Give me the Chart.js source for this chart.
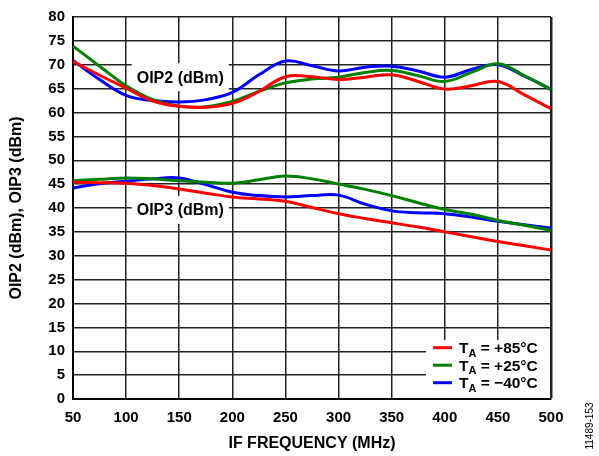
<!DOCTYPE html>
<html>
<head>
<meta charset="utf-8">
<script src="https://cdn.jsdelivr.net/npm/chart.js@4.4.1/dist/chart.umd.min.js"></script>
<style>
  html, body { margin: 0; padding: 0; background: #fff; }
</style>
</head>
<body>
<canvas id="oipChart" width="599" height="456"></canvas>
<script>
// IF frequency (MHz), sampled every 25 MHz off the plot
const freqs = [50, 75, 100, 125, 150, 175, 200, 225, 250, 275, 300, 325, 350, 375, 400, 425, 450, 475, 500]

// OIP2 (dBm)
const oip2_85 = [70.7, 67.8, 65.1, 62.4, 61.3, 61.1, 61.9, 64.4, 67.5, 67.5, 66.9, 67.4, 67.9, 66.5, 64.9, 65.6, 66.5, 63.7, 60.8]
const oip2_25 = [73.9, 69.7, 65.6, 62.7, 61.3, 61.2, 62.3, 64.4, 66.2, 67.0, 67.4, 68.4, 68.8, 67.7, 66.5, 68.4, 70.2, 67.7, 64.8]
const oip2_m40 = [70.9, 66.9, 63.6, 62.5, 62.2, 62.7, 64.2, 67.9, 70.8, 69.8, 68.7, 69.5, 69.7, 68.7, 67.4, 69.0, 70.0, 67.6, 64.9]

// OIP3 (dBm)
const oip3_85 = [45.4, 45.3, 45.2, 44.7, 44.0, 43.1, 42.3, 41.9, 41.4, 40.1, 38.8, 37.8, 36.9, 36.0, 35.0, 34.0, 33.0, 32.1, 31.2]
const oip3_25 = [45.7, 46.0, 46.3, 46.1, 45.7, 45.4, 45.2, 45.9, 46.7, 46.1, 45.0, 43.9, 42.6, 41.1, 39.7, 38.7, 37.4, 36.4, 35.3]
const oip3_m40 = [44.2, 45.1, 45.6, 46.1, 46.3, 44.9, 43.3, 42.6, 42.3, 42.6, 42.7, 40.8, 39.4, 39.0, 38.8, 38.1, 37.2, 36.5, 35.8]

const temps = ['+85°C', '+25°C', '\u221240°C']
const tempColors = ['#ff0000', '#008000', '#0000ff']

const FONT = '"Liberation Sans", Arial, Helvetica, sans-serif'

function pts(vals){
  return vals.map((v, i) => ({x: freqs[i], y: v}))
}

function makeSet(vals, t){
  return {
    label: 'TA = ' + temps[t],
    data: pts(vals),
    borderColor: tempColors[t],
    backgroundColor: tempColors[t],
    borderWidth: 3,
    pointRadius: 0,
    tension: 0.4,
    fill: false
  }
}

// first dataset ends up on top, so red goes first
const datasets = [
  makeSet(oip2_85, 0), makeSet(oip3_85, 0),
  makeSet(oip2_25, 1), makeSet(oip3_25, 1),
  makeSet(oip2_m40, 2), makeSet(oip3_m40, 2)
]

// white-boxed curve labels, the little legend and the figure number
const extras = {
  id: 'extras',
  beforeDatasetsDraw(chart){
    const ctx = chart.ctx
    const xs = chart.scales.x, ys = chart.scales.y
    const labels = [
      {text: 'OIP2 (dBm)', f: 151, v: 67.4},
      {text: 'OIP3 (dBm)', f: 151, v: 39.6}
    ]
    ctx.save()
    ctx.font = 'bold 16px ' + FONT
    ctx.textAlign = 'center'
    ctx.textBaseline = 'middle'
    labels.forEach(lab => {
      const px = xs.getPixelForValue(lab.f)
      const py = ys.getPixelForValue(lab.v)
      const w = ctx.measureText(lab.text).width + 10
      ctx.fillStyle = '#fff'
      ctx.fillRect(px - w / 2, py - 14, w, 28)
      ctx.fillStyle = '#000'
      ctx.fillText(lab.text, px, py + 1)
    })
    ctx.restore()
  },
  afterDatasetsDraw(chart){
    const ctx = chart.ctx
    const area = chart.chartArea
    ctx.save()
    // legend box
    const bx = area.right - 125, by = area.bottom - 59
    ctx.fillStyle = '#fff'
    ctx.fillRect(bx, by, 124, 58)
    temps.forEach((t, i) => {
      const rowY = by + 7.7 + i * 17.5
      ctx.strokeStyle = tempColors[i]
      ctx.lineWidth = 3
      ctx.beginPath()
      ctx.moveTo(bx + 7, rowY)
      ctx.lineTo(bx + 26, rowY)
      ctx.stroke()
      ctx.fillStyle = '#000'
      ctx.textAlign = 'left'
      ctx.textBaseline = 'alphabetic'
      let tx = bx + 33
      ctx.font = 'bold 15.5px ' + FONT
      ctx.fillText('T', tx, rowY + 5.7)
      tx += ctx.measureText('T').width
      ctx.font = 'bold 11px ' + FONT
      ctx.fillText('A', tx, rowY + 9)
      tx += ctx.measureText('A').width
      ctx.font = 'bold 15.5px ' + FONT
      ctx.fillText(' = ' + t, tx, rowY + 5.7)
    })
    // figure number on the right edge
    ctx.translate(590, 426)
    ctx.rotate(-Math.PI / 2)
    ctx.font = '10px ' + FONT
    ctx.textAlign = 'center'
    ctx.textBaseline = 'middle'
    ctx.fillStyle = '#000'
    ctx.fillText('11489-153', 0, 0)
    ctx.restore()
  }
}

new Chart(document.getElementById('oipChart'), {
  type: 'line',
  data: {datasets: datasets},
  options: {
    responsive: false,
    animation: false,
    layout: {padding: {top: 17, right: 48, left: 0, bottom: 0}},
    plugins: {
      legend: {display: false},
      tooltip: {enabled: false}
    },
    scales: {
      x: {
        type: 'linear',
        min: 50,
        max: 500,
        ticks: {stepSize: 50, color: '#000', padding: 10, font: {family: FONT, size: 15, weight: 'bold'}},
        grid: {
          color: '#222',
          lineWidth: c => (c.tick && c.tick.value === 500) ? 2.5 : 1.5,
          drawTicks: false
        },
        border: {display: true, color: '#000', width: 2},
        title: {display: true, text: 'IF FREQUENCY (MHz)', color: '#000', padding: {top: 0, bottom: 3}, font: {family: FONT, size: 16, weight: 'bold'}},
        afterFit: s => { s.height = 57 }
      },
      y: {
        min: 0,
        max: 80,
        ticks: {stepSize: 5, color: '#000', padding: 8, font: {family: FONT, size: 15, weight: 'bold'}},
        grid: {color: '#222', lineWidth: 1.5, drawTicks: false},
        border: {display: true, color: '#000', width: 2},
        title: {display: true, text: 'OIP2 (dBm), OIP3 (dBm)', color: '#000', padding: {top: 7, bottom: 0}, font: {family: FONT, size: 16, weight: 'bold'}},
        afterFit: s => { s.width = 73 }
      }
    }
  },
  plugins: [extras]
})
</script>
</body>
</html>
